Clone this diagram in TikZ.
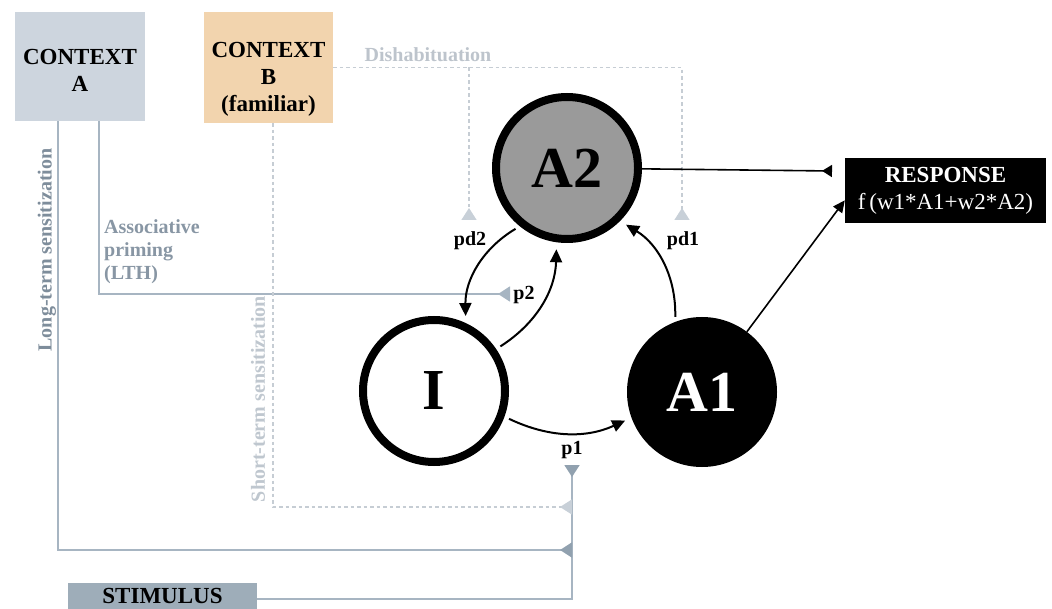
\documentclass[tikz,border=0pt]{standalone}
\usepackage{fontspec}
\setmainfont{Liberation Serif}
\usepackage{tikz}
\usetikzlibrary{arrows.meta,calc}

\definecolor{ctxa}{HTML}{CDD5DE}
\definecolor{ctxb}{HTML}{F2D4AE}
\definecolor{stimfill}{HTML}{9EADB9}
\definecolor{wire}{HTML}{A7B5C2}
\definecolor{wiretip}{HTML}{91A1AF}
\definecolor{dotline}{HTML}{C6CDD4}
\definecolor{dottip}{HTML}{C8D0D8}
\definecolor{ltext}{HTML}{7E8D9B}
\definecolor{atext}{HTML}{8896A4}
\definecolor{stext}{HTML}{BFC7CF}
\definecolor{dtext}{HTML}{BDC4CC}
\definecolor{unitgray}{HTML}{9A9A9A}

\def\boxfont{\fontsize{23}{27}\selectfont}
\def\notefont{\fontsize{20}{23}\selectfont\bfseries}
\def\unitfont{\fontsize{58}{60}\selectfont\bfseries}

\tikzset{
  ctx/.style={rectangle,align=center,inner sep=0pt,font=\boxfont},
  boxtext/.style={align=center,inner sep=0pt,font=\boxfont\bfseries},
  note/.style={inner sep=0pt,font=\notefont},
  unit/.style={circle,draw=black,line width=8pt,minimum size=142pt,inner sep=0pt,font=\unitfont},
  link/.style={line width=2pt,-{Triangle[length=13pt,width=12pt]},shorten >=7pt,shorten <=5pt},
  wireline/.style={draw=wire,line width=1.8pt},
  dotwire/.style={draw=dotline,line width=1.4pt,dash pattern=on 3.5pt off 3pt},
  blocked/.style={-{Triangle[reversed,length=12pt,width=15pt,color=#1]}}
}

\begin{document}
\begin{tikzpicture}[x=1pt,y=-1pt]
\useasboundingbox (0,0) rectangle (1052,609);

% context, stimulus and response boxes
\node[ctx,fill=ctxa,minimum width=130pt,minimum height=109pt,
  label={[boxtext,yshift=-4pt]center:CONTEXT\\A}] (ctxA) at (80,66.5) {};
\node[ctx,fill=ctxb,minimum width=129pt,minimum height=111pt,
  label={[boxtext,yshift=-12pt]center:CONTEXT\\B\\(familiar)}] (ctxB) at (268.5,67.5) {};
\node[ctx,fill=black,text=white,minimum width=201pt,minimum height=65pt] (resp) at (945.5,190.5)
  {\textbf{RESPONSE}\\f\,(w1*A1+w2*A2)};
\node[ctx,fill=stimfill,minimum width=189pt,minimum height=26pt] (stim) at (162.5,596) {\textbf{STIMULUS}};

% end points on the pathways
\coordinate (ltEnd) at (572,550);
\coordinate (stEnd) at (572,507);
\coordinate (p1In) at (572,465);
\coordinate (p2In) at (510,294);
\coordinate (pd2In) at (469,220);
\coordinate (pd1In) at (682,220);
\coordinate (a2Out) at (832,171);

\draw[wireline,blocked=wiretip] ($(stim.east)+(0,3)$) -| (p1In);
\draw[wireline,blocked=wiretip] ($(ctxA.south west)+(43,0)$) |- (ltEnd);
\draw[wireline,blocked=wire] ($(ctxA.south west)+(84,0)$) |- (p2In);
\draw[dotwire,blocked=dottip] ($(ctxB.south west)+(69,0)$) |- (stEnd);
\draw[dotwire,blocked=dottip] (ctxB.east) -| (pd1In);
\draw[dotwire,blocked=dottip] (ctxB.east -| pd2In) -- (pd2In);

% pathway labels
\node[note,text=dtext] (dishab) at (428,55) {Dishabituation};
\node[note,text=ltext,rotate=90] (ltsens) at (47,250) {Long-term sensitization};
\node[note,text=stext,rotate=90] (stsens) at (258,399) {Short-term sensitization};
\node[note,text=atext,align=left,anchor=north west] (assoc) at (104,219) {Associative\\priming\\(LTH)};

% the three units
\node[unit,fill=unitgray] (A2) at (567,168) {A2};
\node[unit,fill=white] (I) at (434,391) {I};
\node[unit,fill=black,text=white] (A1) at (702,392) {A1};

\draw[link] (A2.231) to[bend right=30] (I.65);
\draw[link] (I.34) to[bend right=28] (A2.262);
\draw[link] (A1.111) to[bend right=30] (A2.-45);
\draw[link] (I.-20) to[bend right=25] (A1.200);

\node[note] (pd2) at (470,241) {pd2};
\node[note] (pd1) at (683,241) {pd1};
\node[note] (p2) at (524,295) {p2};
\node[note] (p1) at (572,450) {p1};

% output to the response
\draw[line width=1.6pt,-{Triangle[reversed,length=10pt,width=12pt]}] (A2) -- (a2Out);
\draw[line width=1.6pt,-{Triangle[length=12pt,width=11pt]}] (A1) -- ($(resp.south west)!0.35!(resp.north west)$);
\end{tikzpicture}
\end{document}
